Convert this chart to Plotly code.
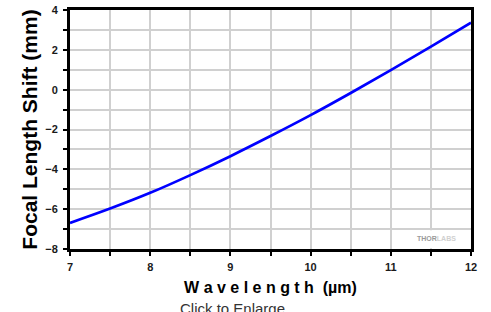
import plotly.graph_objects as go

wavelength_um = [7.0, 7.5, 8.0, 8.5, 9.0, 9.5, 10.0, 10.5, 11.0, 11.5, 12.0]
focal_shift_mm = [-6.69, -5.97, -5.18, -4.29, -3.34, -2.33, -1.28, -0.17, 0.98, 2.16, 3.36]

FONT = "Liberation Sans, Arial, sans-serif"

fig = go.Figure()
fig.add_trace(go.Scatter(
    x=wavelength_um, y=focal_shift_mm, mode="lines",
    line=dict(color="#0000FF", width=2.7, shape="spline"),
    hoverinfo="skip", showlegend=False,
))

grid = "#d0d0d0"
tickfont = dict(family=FONT, size=11, color="#1a1a1a", weight="bold")

fig.update_xaxes(
    range=[7, 12], dtick=1, tick0=7,
    showgrid=True, gridcolor=grid, gridwidth=1.5,
    minor=dict(dtick=0.5, showgrid=True, gridcolor=grid, gridwidth=1.5,
               ticks="outside", ticklen=4, tickwidth=2, tickcolor="black"),
    ticks="outside", ticklen=4, tickwidth=2, tickcolor="black",
    showline=True, linecolor="black", linewidth=3, mirror=True,
    tickfont=tickfont, zeroline=False, ticklabeloverflow="allow",
    ticklabelstandoff=2,
    title=dict(text="<b>W a v e l e n g t h  (µm)</b>",
               font=dict(family=FONT, size=16, color="black"),
               standoff=10),
)
fig.update_yaxes(
    range=[-8, 4], dtick=2, tick0=0,
    showgrid=True, gridcolor=grid, gridwidth=1.5,
    minor=dict(dtick=1, showgrid=True, gridcolor=grid, gridwidth=1.5,
               ticks="outside", ticklen=4, tickwidth=2, tickcolor="black"),
    ticks="outside", ticklen=4, tickwidth=2, tickcolor="black",
    showline=True, linecolor="black", linewidth=3, mirror=True,
    tickfont=tickfont, zeroline=False, ticklabeloverflow="allow",
    ticklabelstandoff=3,
    title=dict(text="<b>Focal Length Shift (mm)</b>",
               font=dict(family=FONT, size=21, color="black"),
               standoff=2),
)

# watermark box
fig.add_shape(type="rect", xref="x", yref="y", x0=11.17, x1=11.98, y0=-7.96, y1=-7.06,
              fillcolor="white", line=dict(width=0), layer="between")
fig.add_annotation(xref="x", yref="y", x=11.57, y=-7.45,
                   text="<b><span style='color:#9a9a9a'>THOR</span><span style='color:#d0d0d0'>LABS</span></b>",
                   showarrow=False, font=dict(family=FONT, size=7))

fig.add_annotation(xref="paper", yref="paper", x=0.27, y=-0.205, xanchor="left", yanchor="top",
                   text="Click to Enlarge", showarrow=False,
                   font=dict(family=FONT, size=15, color="#333"))

fig.update_layout(
    width=491, height=312,
    margin=dict(l=70, r=20, t=10, b=63, autoexpand=False),
    paper_bgcolor="white", plot_bgcolor="white",
)

# remove default page margin so the figure fills the window exactly
fig.write_html("out.html", config={"displayModeBar": False},
               post_script="document.body.style.margin='0';")
